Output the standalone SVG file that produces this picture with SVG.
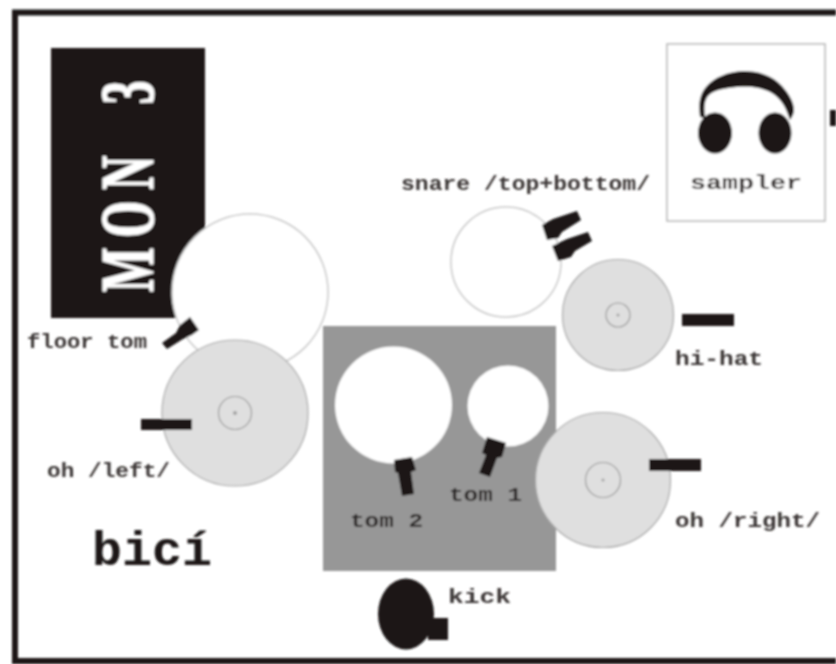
<svg xmlns="http://www.w3.org/2000/svg" width="836" height="664" viewBox="0 0 836 664">
<style>
.k{fill:#1c1817}
.drum{fill:#fff;stroke:#c8c8c8;stroke-width:1.5}
.bare{fill:#fff}
.cym{fill:#dfdfdf;stroke:#a8a8a8;stroke-width:1.2}
.bell{fill:none;stroke:#9a9a9a;stroke-width:1.2}
.dot{fill:#a0a0a0}
text{font-family:"Liberation Mono","DejaVu Sans Mono",monospace;font-weight:700;fill:#3a3634;font-size:21px}
</style>
<defs><filter id="soft" x="0" y="0" width="100%" height="100%" filterUnits="userSpaceOnUse"><feGaussianBlur stdDeviation="0.8"/></filter></defs>
<rect width="836" height="664" fill="#fff"/>
<g filter="url(#soft)">
<path id="frame" d="M836 12.500H15V661H836" fill="none" stroke="#1c1817" stroke-width="6"/>
<g id="monitor">
<rect class="k" x="51" y="48" width="154" height="270"/>
<text transform="translate(153 292) rotate(-90) scale(0.62 1)" x="0 88 165 240 303" y="0" style="font-family:'Liberation Serif','DejaVu Serif',serif;font-size:76px;fill:#fff;stroke:#fff;stroke-width:1">MON 3</text>
</g>
<g id="floor-tom">
<circle class="drum" cx="250" cy="292" r="78"/>
<polygon class="k" points="162,343 167,349 183,339 192,335 199,330 190,317 180,325 176,333"/>
<text x="27" y="348" textLength="120" lengthAdjust="spacingAndGlyphs">floor tom</text>
</g>
<g id="oh-left">
<circle class="cym" cx="235" cy="413" r="73"/>
<circle class="bell" cx="235" cy="413" r="16.500"/>
<circle class="dot" cx="235" cy="413" r="2"/>
<rect class="k" x="141" y="419" width="51" height="11"/>
<text x="47" y="477" textLength="123" lengthAdjust="spacingAndGlyphs">oh /left/</text>
</g>
<g id="toms">
<rect x="323" y="326" width="233" height="245" fill="#979797"/>
</g>
<g id="tom-2">
<circle class="bare" cx="393.500" cy="405" r="58.500"/>
<polygon class="k" points="394,460 412,457 416,470 411,472 414,494 402,496 398,473 395,472"/>
<text x="350" y="527" textLength="73" lengthAdjust="spacingAndGlyphs" style="fill:#2c2826">tom 2</text>
</g>
<g id="tom-1">
<circle class="bare" cx="508" cy="406" r="40.500"/>
<polygon class="k" points="487,437 506,443 502,457 497,458 490,477 479,473 486,455 482,453"/>
<text x="449" y="501" textLength="73" lengthAdjust="spacingAndGlyphs" style="fill:#2c2826">tom 1</text>
</g>
<g id="snare">
<circle class="drum" cx="506" cy="262" r="55"/>
<polygon class="k" points="542,225 553,219 577,211 581,220 562,232 558,238 547,240"/>
<polygon class="k" points="552,246 567,239 588,232 592,241 575,251 571,257 558,261"/>
<text x="401" y="190" textLength="249" lengthAdjust="spacingAndGlyphs">snare /top+bottom/</text>
</g>
<g id="hi-hat">
<circle class="cym" cx="618" cy="315" r="55.500"/>
<circle class="bell" cx="618" cy="315" r="12"/>
<circle class="dot" cx="618" cy="315" r="1.500"/>
<rect class="k" x="682" y="314" width="52" height="12"/>
<text x="675" y="365" textLength="88" lengthAdjust="spacingAndGlyphs">hi-hat</text>
</g>
<g id="oh-right">
<circle class="cym" cx="603" cy="480" r="67.500"/>
<circle class="bell" cx="603" cy="480" r="17.500"/>
<circle class="dot" cx="603" cy="480" r="1.500"/>
<rect class="k" x="649" y="459" width="52" height="12"/>
<text x="675" y="527" textLength="145" lengthAdjust="spacingAndGlyphs">oh /right/</text>
</g>
<g id="kick">
<ellipse class="k" cx="406" cy="614" rx="28" ry="35.500"/>
<rect class="k" x="428" y="618" width="20" height="22"/>
<text x="448" y="603" textLength="63" lengthAdjust="spacingAndGlyphs">kick</text>
</g>
<g id="sampler">
<rect x="667" y="44" width="158" height="177" fill="#fff" stroke="#b4b4b4" stroke-width="1.500"/>
<path class="k" d="M700 117C698 103 700 94 706 87C714 77 728 72 743 71C758 71 772 75 782 86C789 94 794 102 794 110C794 114 792 117 790 120L787 112C784 104 778 96 770 92C760 87 750 86 737 87C726 88 714 90 709 95C704 100 704 108 705 118Z"/>
<ellipse class="k" cx="715" cy="133" rx="17" ry="20.500"/>
<ellipse class="k" cx="775" cy="133" rx="16.500" ry="20.500"/>
<text x="690" y="189" textLength="112" lengthAdjust="spacingAndGlyphs">sampler</text>
</g>
<g id="sampler-mic"><rect class="k" x="830" y="110" width="6" height="16"/></g>
<g id="title"><text x="92" y="565" textLength="120" lengthAdjust="spacingAndGlyphs" style="font-size:48px;fill:#1c1817">bicí</text></g>
</g>
</svg>
